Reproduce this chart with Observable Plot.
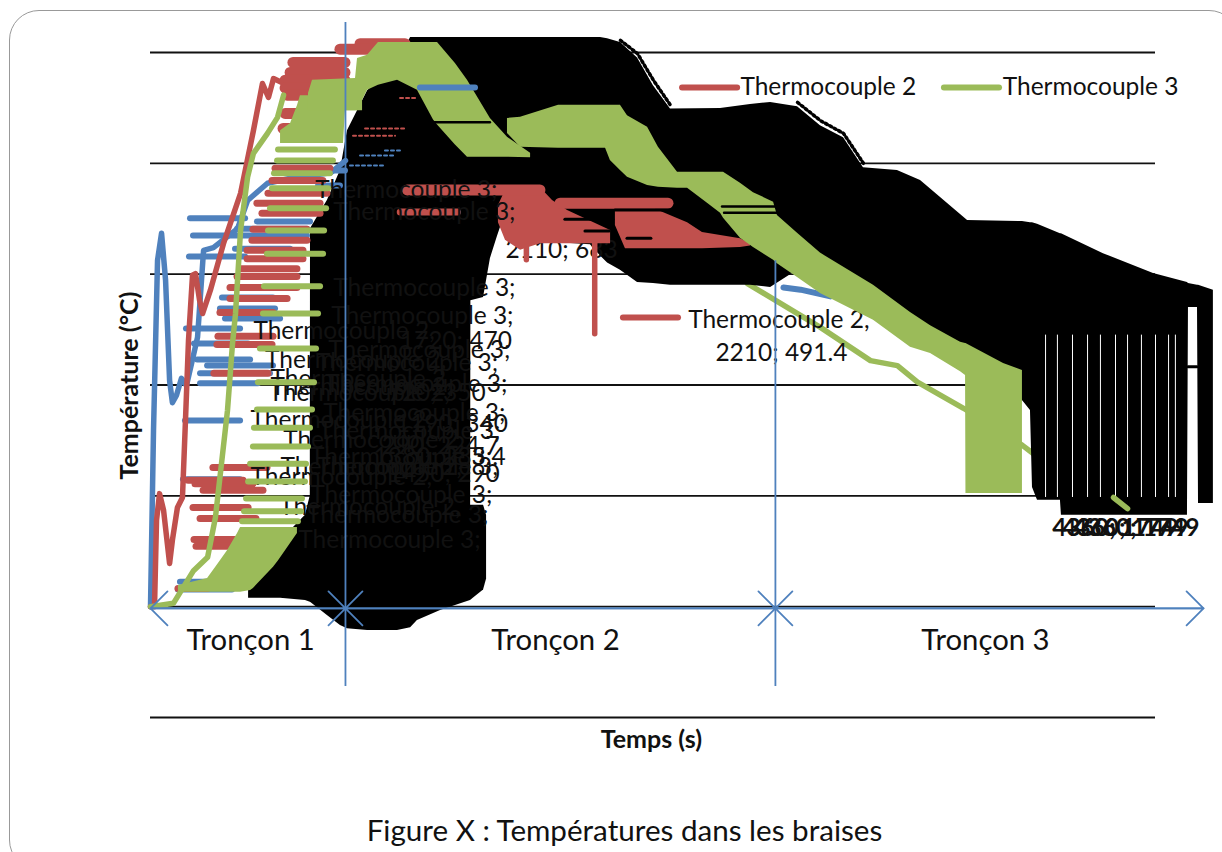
<!DOCTYPE html>
<html><head><meta charset="utf-8">
<script src="https://cdn.jsdelivr.net/npm/d3@7"></script>
<script src="https://cdn.jsdelivr.net/npm/@observablehq/plot@0.6"></script>
<style>
html,body{margin:0;padding:0;background:#fff;width:1222px;height:852px;overflow:hidden}
#frame{position:absolute;left:9px;top:10px;width:1230px;height:860px;border:1.5px solid #999;border-radius:30px;box-sizing:border-box}
#chart{position:absolute;left:0;top:0}
</style></head><body>
<div id="frame"></div><div id="chart"></div>
<script>
const yGrid=[-200,0,200,400,600,800,1000];
const RED="#c0504d",GREEN="#9bbb59",BLUE="#4f81bd",FONT="Lato, Carlito, sans-serif";

// Series curves (time s, temperature °C)
const blueT=[0,15,35,55,75,95,109,129,154,179,234,264,313,433,483,582,697,896,970];
const blueV=[0,318,625,674,589,408,368,381,412,399,486,643,648,682,733,764,773,783,805];
const blueTailT=[3149,3234,3383];
const blueTailV=[576,572,560];
const redT=[0,20,30,45,65,95,109,134,159,174,189,209,224,244,259,298,363,448,512,557,587,612,682,811];
const redV=[0,0,156,204,174,78,120,179,197,336,480,598,601,553,529,571,655,746,859,944,919,953,941,950];
const greenT=[0,114,214,284,323,383,408,423,448,483,512,582,632,662];
const greenV=[0,6,65,89,161,354,475,529,679,775,818,854,883,923];
const greenTailT=[2970,3333,3582,3716,3816,4045,4338,4393,4527,4791];
const greenTailV=[583,504,444,435,405,358,291,276,251,197];
const greenEndT=[4791,4861];
const greenEndV=[197,177];

// Envelope of the overlapping data labels
const massT=[488,647,771,795,796,880,945,980,1080,1229,1294,1328,1443,1592,1594,1657,1691,1726,1756,1891,2189,2239,2274,2338,2423,2502,2587,2836,2985,3085,3219,3333,3448,3547,3716,3831,4065,4338,4378,4388,4413,4527,4532,4741,4990,5159,5164,5209,5214,5288];
const massTop=[29,119,165,200,682,733,787,859,931,983,1027,1027,1027,1027,1027,1027,1027,1027,1027,1027,1027,1027,1025,1018,990,940,898,899,906,910,902,868,846,792,787,769,697,695,693,693,690,673,673,637,601,585,583,580,580,571];
const massBot=[15,15,11,8,8,-16,-34,-40,-43,-43,-38,-25,-7,11,552,558,628,668,700,660,653,633,620,607,585,583,580,580,580,576,607,580,553,535,499,481,453,372,354,215,192,192,165,165,165,165,540,540,186,186];
const lowT=[1592,1657,1672];
const lowTop=[183,183,165];
const lowBot=[11,30,50];
const fringeAT=[2338,2423,2502,2587];
const fringeAV=[1022,998,950,905];
const fringeBT=[3219,3333,3448,3547];
const fringeBV=[910,877,854,800];
const gapT=[4453,4512,4587,4662,4726,4801,4861,4930,5000,5065,5099];

// Green bands
const gAT=[786,806,1020,1030,1080,1134,1229,1328,1408,1428,1517,1577,1691,1776,1891];
const gATop=[926,950,953,989,995,1018,1018,1018,1018,1018,980,950,881,847,818];
const gABot=[895,895,895,895,932,941,950,932,878,869,833,811,811,811,810];
const gBT=[1776,1841,2030,2264,2288,2338,2373,2473,2527,2622,2672,2771,2836,2851,2935,3000,3100,3119,3219,3333,3597,3781,3881,4030,4055,4057,4244,4338];
const gBTop=[881,883,905,905,905,905,886,865,829,784,784,784,784,784,764,747,730,706,674,638,580,531,507,477,475,475,439,426];
const gBBot=[854,829,827,827,805,787,775,760,757,755,755,728,710,701,665,648,625,619,594,565,517,468,457,424,417,204,204,204];
const gCT=[139,284,338,383,433,448,498,512,612,637,731];
const gCTop=[38,51,78,101,132,143,143,143,143,143,143];
const gCBot=[26,26,26,26,26,26,29,33,71,83,132];
const gDT=[647,697,731,746,960,970,1055];
const gDTop=[859,872,904,922,922,922,919];
const gDBot=[836,836,836,836,836,895,895];

// Red bands
const r1T=[1731,1766,1841,1940,2000,2075,2289];
const r1Top=[724,751,756,756,733,715,679];
const r1Bot=[693,661,643,655,655,655,655];
const r2T=[2313,2363,2512,2672,2746,2935,2985];
const r2Top=[717,717,717,693,675,664,655];
const r2Bot=[688,646,646,646,646,648,651];

// Legend-key dashes: [from, to, temperature]
const redKeys=[[622,895,791],[607,860,769],[587,880,746],[532,846,728],[557,846,710],[512,781,681],[507,781,661],[483,761,643],[483,761,628],[448,731,610],[433,731,596],[398,731,576],[398,682,556],[348,612,531],[338,612,488],[333,607,473],[318,587,421],[313,582,251],[189,463,228],[224,512,222],[264,562,210],[214,488,179],[249,527,159],[219,448,121],[229,413,109],[139,284,33],[1245,1530,712]];
const redThick=[[1045,1269,1016],[945,1244,1006],[711,970,982],[697,970,964],[672,970,950],[672,970,936],[682,980,923],[672,746,890],[662,746,863],[2040,2577,728],[1280,1940,752]];
const greenKeys=[[562,836,529],[547,826,466],[537,816,405],[532,806,356],[517,796,323],[512,786,289],[498,776,258],[488,771,226],[478,756,195],[468,751,172],[458,736,154],[567,846,578],[582,861,637],[587,866,679],[597,876,719],[607,886,755],[617,895,782],[632,910,805],[637,920,825]];
const blueKeys=[[199,473,701],[214,781,670],[194,473,632],[423,697,646],[532,796,695],[433,781,682],[358,612,558],[348,622,538],[373,647,520],[179,448,502],[219,488,475],[234,498,446],[284,612,435],[249,597,421],[249,537,403],[174,448,336],[164,448,230],[149,423,45],[139,408,31],[821,970,787],[836,945,760]];
const redSpeck=[[1244,1328,918],[1070,1269,863],[1010,1219,850]];
const blueSpeck=[[1045,1219,814],[995,1169,796],[1169,1244,823]];
const cracks=[[1403,1691,874],[2846,3125,722],[2856,3125,711],[2064,2303,699],[2164,2284,678],[2313,2597,716],[2373,2492,665],[5164,5209,433]];
const dips=[[2210,655,491.4],[1870,650,625]];

// Legends
const keyRed=[[2647,2921,937]], keyGreen=[[3950,4224,937]], keyBlue=[[1343,1617,937]], keyRed2=[[2353,2627,522]];

// Data labels
const labelsEnd=[["Thermocouple 3;",1726,752],["Thermocouple 3;",1816,712],["Thermocouple 3;",1816,574],["Thermocouple 3;",1806,524],["Thermocouple 3;",1791,462],["Thermocouple 3;",1776,401],["Thermocouple 3;",1766,350],["Thermocouple 3;",1741,316],["Thermocouple 3;",1731,251],["Thermocouple 3;",1701,201],["Thermocouple 3;",1681,165],["Thermocouple 3;",1642,120],["Thermocouple 3;",1730,440],["Thermocouple 3;",1700,270]];
const labelsStart=[["Thermocouple 2,",512,498],["Thermocouple 2,",597,396],["Thermocouple 2,",597,410],["Thermocouple 2,",587,385],["Thermocouple 2,",498,336],["Thermocouple 2,",647,251],["Thermocouple 2,",498,233],["Thermocouple 2,",570,445],["Thermocouple 2,",640,180],["Thermocouple 2,",660,300]];
const labelsMid=[["290; 224.7",1150,290],["1380; 285.4",1110,270],["1190; 340",1220,330],["1720; 470",1240,480],["1450; 290",1180,240],["720; 350",1180,385]];
const label2110=[["2110; 683",1766,643]];
const labelEnd4360=[["4360; 1749",4800,141],["4360; 1749",4850,141],["4360; 1749",4905,141]];
const legendText=[["Thermocouple 2",2935,937],["Thermocouple 3",4240,937]];
const note=[["Thermocouple 2,",2675,517],["2210; 491.4",3139,458]];
const sections=[["Tronçon 1",498,-61],["Tronçon 2",2015,-61],["Tronçon 3",4154,-61]];
const sectionLines=[[970,1054,-144],[3109,624,-144]];
const arrowSegs=[[0,970],[970,0],[970,3109],[3109,970],[3109,5239],[5239,3109]];
const arrowY=-3;

const zip=(t,a,b)=>t.map((x,i)=>({x,a:a[i],b:b?b[i]:undefined}));
const band=(t,a,b,fill)=>Plot.areaY(zip(t,a,b),{x:"x",y1:"a",y2:"b",fill,curve:"linear"});
const line=(t,v,stroke,w=5.5,o={})=>Plot.line(zip(t,v),{x:"x",y:"a",stroke,strokeWidth:w,strokeLinejoin:"round",strokeLinecap:"round",...o});
const rows=(d,stroke,w=6,o={})=>Plot.ruleY(d,{x1:r=>r[0],x2:r=>r[1],y:r=>r[2],stroke,strokeWidth:w,strokeLinecap:"round",...o});
const txt=(d,o)=>Plot.text(d,{text:r=>r[0],x:r=>r[1],y:r=>r[2],fontFamily:FONT,fontSize:24.5,fill:"#111",lineAnchor:"middle",...o});

const plot=Plot.plot({
  width:1222,height:852,marginLeft:150,marginRight:67,marginTop:52,marginBottom:135,
  style:{background:"transparent",overflow:"visible"},
  x:{domain:[0,5000],axis:null},
  y:{domain:[-200,1000],axis:null},
  marks:[
    Plot.ruleY(yGrid,{stroke:"#111",strokeWidth:1.8}),
    line(blueTailT,blueTailV,BLUE,6),
    line(greenTailT,greenTailV,GREEN),
    band(massT,massTop,massBot,"#000"),
    band(lowT,lowTop,lowBot,"#000"),
    line(fringeAT,fringeAV,"#000",3.5,{strokeDasharray:"2 3"}),
    line(fringeBT,fringeBV,"#000",3.5,{strokeDasharray:"2 3"}),
    Plot.ruleX(gapT,{y1:197,y2:490,stroke:"#fff",strokeWidth:1}),
    txt(label2110,{textAnchor:"start"}),
    txt(labelEnd4360,{textAnchor:"middle",fontWeight:"bold"}),
    txt(note.slice(0,1),{textAnchor:"start"}),
    txt(note.slice(1),{textAnchor:"middle"}),
    rows(blueSpeck,BLUE,2,{strokeDasharray:"3 3"}),
    rows(redSpeck,RED,2,{strokeDasharray:"3 3"}),
    line(blueT,blueV,BLUE),
    rows(blueKeys,BLUE),
    line(redT,redV,RED),
    Plot.ruleX(dips,{x:r=>r[0],y1:r=>r[1],y2:r=>r[2],stroke:RED,strokeWidth:5.5,strokeLinecap:"round"}),
    band(r1T,r1Top,r1Bot,RED),
    band(r2T,r2Top,r2Bot,RED),
    rows(redKeys,RED,7),
    rows(redThick,RED,11),
    rows(keyRed2,RED),
    rows(cracks,"#000",3),
    txt(labelsEnd,{textAnchor:"end"}),
    txt(labelsStart,{textAnchor:"start"}),
    txt(labelsMid,{textAnchor:"start"}),
    line(greenT,greenV,GREEN),
    band(gCT,gCTop,gCBot,GREEN),
    band(gDT,gDTop,gDBot,GREEN),
    band(gAT,gATop,gABot,GREEN),
    band(gBT,gBTop,gBBot,GREEN),
    rows(greenKeys,GREEN,6),
    rows(cracks.slice(0,3),"#000",2.5),
    line(greenEndT,greenEndV,GREEN),
    rows(keyBlue,BLUE),
    rows(keyRed,RED),
    rows(keyGreen,GREEN),
    txt(legendText,{textAnchor:"start"}),
    Plot.ruleX(sectionLines,{x:r=>r[0],y1:r=>r[1],y2:r=>r[2],stroke:BLUE,strokeWidth:1.8}),
    Plot.arrow(arrowSegs,{x1:r=>r[0],x2:r=>r[1],y1:arrowY,y2:arrowY,stroke:BLUE,strokeWidth:1.8,headLength:20,headAngle:90,bend:0}),
    txt(sections,{textAnchor:"middle",fontSize:29.3}),
    Plot.text(["Temps (s)"],{x:2492,y:-240,fontFamily:FONT,fontSize:25,fontWeight:"bold",fill:"#111"}),
    Plot.text(["Température (°C)"],{x:-104,y:399,rotate:-90,fontFamily:FONT,fontSize:25,fontWeight:"bold",fill:"#111"}),
    Plot.text(["Figure X : Températures dans les braises"],{x:2358,y:-406,fontFamily:FONT,fontSize:29.6,fill:"#111"})
  ]
});
document.getElementById("chart").appendChild(plot);
</script>
</body></html>
